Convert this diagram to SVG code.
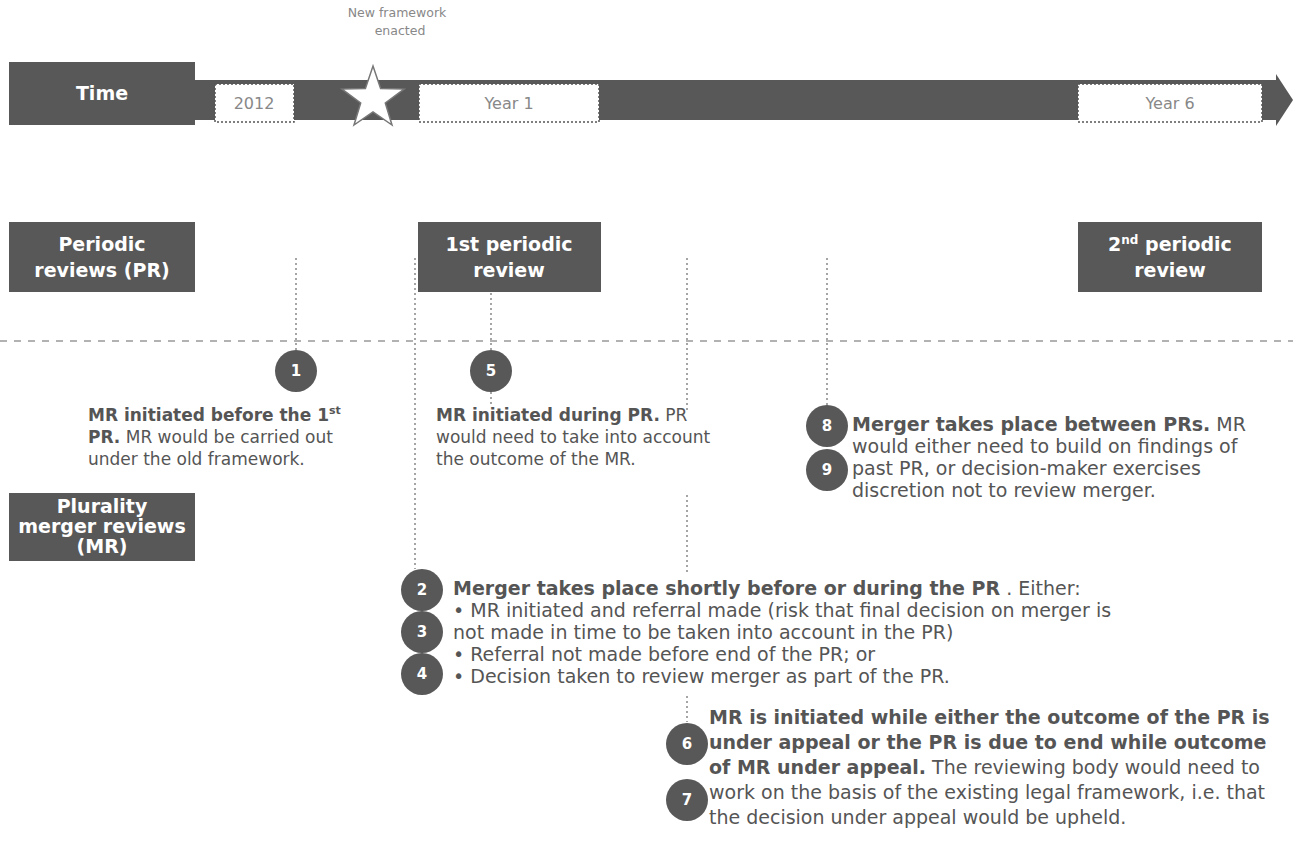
<svg xmlns="http://www.w3.org/2000/svg" width="1293" height="853" viewBox="0 0 1293 853">
<style>
.dark{fill:#585858}
.wbox{fill:#ffffff;stroke:#555;stroke-width:1.5;stroke-dasharray:2 2}
.lbl{font-family:"DejaVu Sans","Liberation Sans",Arial,sans-serif;font-weight:bold;fill:#ffffff;font-size:19px;text-anchor:middle}
.yr{font-family:"DejaVu Sans","Liberation Sans",Arial,sans-serif;fill:#888;font-size:16px;text-anchor:middle}
.note{font-family:"DejaVu Sans","Liberation Sans",Arial,sans-serif;fill:#888;font-size:12.5px;text-anchor:middle}
.body{font-family:"DejaVu Sans","Liberation Sans",Arial,sans-serif;fill:#555;font-size:17px}
.big{font-size:19px}
.b{font-weight:bold}
.num{font-family:"DejaVu Sans","Liberation Sans",Arial,sans-serif;font-weight:bold;fill:#fff;font-size:15px;text-anchor:middle}
.vdot{stroke:#888;stroke-width:1.5;stroke-dasharray:2 3;fill:none}
.hdash{stroke:#999;stroke-width:1.5;stroke-dasharray:7 7;fill:none}
</style>
<g id="timeline">
<rect x="194" y="80" width="1084" height="40" class="dark"/>
<polygon points="1276,74 1293,100 1276,126" class="dark"/>
</g>
<g id="time"><rect x="9" y="62" width="186" height="63" class="dark"/><text x="102" y="100" class="lbl">Time</text></g>
<g id="y2012"><rect x="215" y="84" width="79" height="38" class="wbox"/><text x="254" y="109" class="yr">2012</text></g>
<g id="star">
<polygon points="373,66 380.6,88.5 404,89.1 385.3,103 392,125 373,112 354,125 360.7,103 342,89.1 365.4,88.5" fill="#fff" stroke="#777" stroke-width="1.5"/>
<text x="397" y="17" class="note">New framework</text>
<text x="400" y="35" class="note">enacted</text>
</g>
<g id="year1"><rect x="419" y="84" width="180" height="38" class="wbox"/><text x="509" y="109" class="yr">Year 1</text></g>
<g id="year6"><rect x="1078" y="84" width="184" height="38" class="wbox"/><text x="1170" y="109" class="yr">Year 6</text></g>

<g id="pr"><rect x="9" y="222" width="186" height="70" class="dark"/><text x="102" y="251" class="lbl">Periodic</text><text x="102" y="277" class="lbl">reviews (PR)</text></g>
<g id="pr1"><rect x="418" y="222" width="183" height="70" class="dark"/><text x="509" y="251" class="lbl">1st periodic</text><text x="509" y="277" class="lbl">review</text></g>
<g id="pr2"><rect x="1078" y="222" width="184" height="70" class="dark"/><text x="1170" y="251" class="lbl">2<tspan font-size="12" dy="-7">nd</tspan><tspan dy="7"> periodic</tspan></text><text x="1170" y="277" class="lbl">review</text></g>
<g id="mr"><rect x="9" y="493" width="186" height="68" class="dark"/><text x="102" y="513" class="lbl" font-size="15">Plurality</text><text x="102" y="533" class="lbl" font-size="15">merger reviews</text><text x="102" y="553" class="lbl" font-size="15">(MR)</text></g>

<g id="connectors">
<line x1="0" y1="341" x2="1293" y2="341" class="hdash"/>
<line x1="296" y1="258" x2="296" y2="350" class="vdot"/>
<line x1="415" y1="258" x2="415" y2="569" class="vdot"/>
<line x1="491" y1="293" x2="491" y2="350" class="vdot"/>
<line x1="491" y1="392" x2="491" y2="404" class="vdot"/>
<line x1="687" y1="258" x2="687" y2="410" class="vdot"/>
<line x1="687" y1="495" x2="687" y2="572" class="vdot"/>
<line x1="687" y1="696" x2="687" y2="722" class="vdot"/>
<line x1="827" y1="258" x2="827" y2="405" class="vdot"/>
</g>

<g id="c1"><circle cx="296" cy="371" r="21" class="dark"/><text x="296" y="376" class="num">1</text></g>
<g id="c5"><circle cx="491" cy="371" r="21" class="dark"/><text x="491" y="376" class="num">5</text></g>
<g id="c8"><circle cx="827" cy="426" r="21" class="dark"/><text x="827" y="431" class="num">8</text></g>
<g id="c9"><circle cx="827" cy="470" r="21" class="dark"/><text x="827" y="475" class="num">9</text></g>
<g id="c2"><circle cx="422" cy="590" r="21" class="dark"/><text x="422" y="595" class="num">2</text></g>
<g id="c3"><circle cx="422" cy="632" r="21" class="dark"/><text x="422" y="637" class="num">3</text></g>
<g id="c4"><circle cx="422" cy="674" r="21" class="dark"/><text x="422" y="679" class="num">4</text></g>
<g id="c6"><circle cx="687" cy="744" r="21" class="dark"/><text x="687" y="749" class="num">6</text></g>
<g id="c7"><circle cx="687" cy="800" r="21" class="dark"/><text x="687" y="805" class="num">7</text></g>

<g id="t1" class="body">
<text x="88" y="421"><tspan class="b">MR initiated before the 1<tspan font-size="11" dy="-7">st</tspan></tspan></text>
<text x="88" y="443"><tspan class="b">PR.</tspan> MR would be carried out</text>
<text x="88" y="465">under the old framework.</text>
</g>
<g id="t5" class="body">
<text x="436" y="421"><tspan class="b">MR initiated during PR.</tspan>  PR</text>
<text x="436" y="443">would need to take into account</text>
<text x="436" y="465">the outcome of the MR.</text>
</g>
<g id="t8" class="body big">
<text x="852" y="431"><tspan class="b">Merger takes place between PRs.</tspan> MR</text>
<text x="852" y="453">would either need to build on findings of</text>
<text x="852" y="475">past PR, or decision-maker exercises</text>
<text x="852" y="497">discretion not to review merger.</text>
</g>
<g id="t2" class="body big">
<text x="453" y="595"><tspan class="b">Merger takes place shortly before or during the PR</tspan> . Either:</text>
<text x="453" y="617">• MR initiated and referral made (risk that final decision on merger is</text>
<text x="453" y="639">  not made in time to be taken into account in the PR)</text>
<text x="453" y="661">• Referral not made before end of the PR; or</text>
<text x="453" y="683">• Decision taken to review merger as part of  the PR.</text>
</g>
<g id="t6" class="body big">
<text x="709" y="724" class="b">MR is initiated while either the outcome of the PR is</text>
<text x="709" y="749" class="b">under appeal or the PR is due to end while outcome</text>
<text x="709" y="774"><tspan class="b">of MR under appeal.</tspan> The reviewing body would need to</text>
<text x="709" y="799">work on the basis of the existing legal framework, i.e. that</text>
<text x="709" y="824">the decision under appeal would be upheld.</text>
</g>
</svg>
